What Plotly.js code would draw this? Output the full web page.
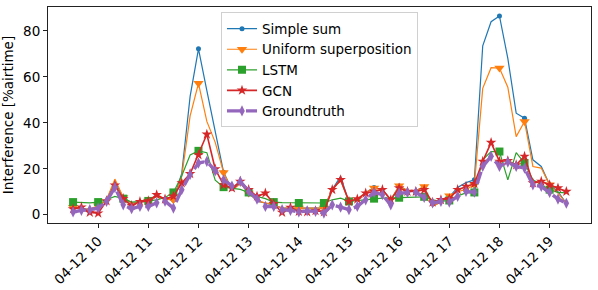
<!DOCTYPE html>
<html>
<head>
<meta charset="utf-8">
<script src="https://cdn.plot.ly/plotly-3.0.1.min.js"></script>
<style>html,body{margin:0;padding:0;background:#fff;}#chart{width:598px;height:290px;}</style>
</head>
<body>
<div id="chart"></div>
<script>
// 10-minute samples, 04-12 09:30 .. 19:20
const times = [
 "2021-04-12 09:30","2021-04-12 09:40","2021-04-12 09:50","2021-04-12 10:00","2021-04-12 10:10","2021-04-12 10:20",
 "2021-04-12 10:30","2021-04-12 10:40","2021-04-12 10:50","2021-04-12 11:00","2021-04-12 11:10","2021-04-12 11:20",
 "2021-04-12 11:30","2021-04-12 11:40","2021-04-12 11:50","2021-04-12 12:00","2021-04-12 12:10","2021-04-12 12:20",
 "2021-04-12 12:30","2021-04-12 12:40","2021-04-12 12:50","2021-04-12 13:00","2021-04-12 13:10","2021-04-12 13:20",
 "2021-04-12 13:30","2021-04-12 13:40","2021-04-12 13:50","2021-04-12 14:00","2021-04-12 14:10","2021-04-12 14:20",
 "2021-04-12 14:30","2021-04-12 14:40","2021-04-12 14:50","2021-04-12 15:00","2021-04-12 15:10","2021-04-12 15:20",
 "2021-04-12 15:30","2021-04-12 15:40","2021-04-12 15:50","2021-04-12 16:00","2021-04-12 16:10","2021-04-12 16:20",
 "2021-04-12 16:30","2021-04-12 16:40","2021-04-12 16:50","2021-04-12 17:00","2021-04-12 17:10","2021-04-12 17:20",
 "2021-04-12 17:30","2021-04-12 17:40","2021-04-12 17:50","2021-04-12 18:00","2021-04-12 18:10","2021-04-12 18:20",
 "2021-04-12 18:30","2021-04-12 18:40","2021-04-12 18:50","2021-04-12 19:00","2021-04-12 19:10","2021-04-12 19:20"
];

const simpleSum = [3,2.5,2.5,3.5,6.5,14.5, 7.5,5,5.5,6,8,6.8, 6.5,18,51.5,72.2,54,36.5, 18.5,11,14,9.5,6,5,
 4.3,2.9,2.9,2.9,2.9,2.9, 2.9,11,16.7,5.5,6.8,9.7, 11.8,11,6.5,12.5,10.5,10.5, 12,3.8,5.5,7.8,11.9,14,
 15.2,73.5,84,86.5,68,44.2, 42,23.9,21,13,10,5];

const uniformSup = [3.3,2.5,2.5,3.9,6.5,15.5, 7.5,5,5.5,6,8,6.8, 6.5,16.7,43,57.2,40.6,31.5, 18.4,10.6,13.5,9.5,6,5,
 4.3,2.9,2.9,2.9,2.9,2.9, 2.9,10.9,15,5.5,6.8,9.7, 11.6,10.9,6.5,12.6,10.5,10.5, 12.3,3.6,5.5,8.3,10,11,
 13,55,64,63.8,55.5,34, 40.6,21,20.3,13,9.4,4.8];

const lstm = [5.5,5.3,5.2,5.5,6.5,8, 7,5.5,5.7,6,6.5,7.5, 9.7,17,26,27.8,27,15, 12,11.5,11,9.7,8,7,
 5.5,5.3,5.2,5.1,5.1,5.1, 5.1,6.5,7.2,5.8,6.2,6.6, 7,7.2,7.3,7.4,7.5,7.6, 7.8,6.5,5.8,6.2,8.2,9.5,
 9.7,23.9,27.5,27.5,15.2,27, 22.5,15.2,13,10.9,9.7,9.5];

const gcn = [2.5,3.3,1.0,0.7,6,12.8, 7,4,5.7,6,8.7,6.8, 8,13.8,17.8,26,35,19.9, 13,11.6,14.5,10.9,8,9.4,
 4.8,1,3.2,1.4,1.2,1.7, 1.2,10.9,15.2,5.8,6.8,9.4, 10.1,10.9,6.5,11.6,10.1,10.1, 10.9,5.4,6.5,7,10.9,12.3,
 13.5,23.2,31.4,23.2,23.5,21.7, 25.4,13.8,14.5,13,11.6,10.1];

const groundtruth = [1.2,1.9,2.2,2.9,5.8,11.9, 4.3,2.6,3.6,3.6,5.2,5.9, 2.9,10.9,17.5,22.5,23.2,19.1, 15.2,12.5,14.5,10.1,6.8,3.6,
 3.6,2.2,1.9,1.2,1.7,1.4, 0.7,4.3,3.3,2.2,3.6,6.5, 9.7,8.7,4.3,9.4,9.7,9.8, 7.5,5.1,5.8,5.5,8,10.1,
 9.8,21,25.4,21,22.9,21, 20.3,13,12.3,9.7,6.8,5];

const seriesNames = ["Simple sum","Uniform superposition","LSTM","GCN","Groundtruth"];
const tickHours = ["10","11","12","13","14","15","16","17","18","19"];
const tickVals = tickHours.map(h => "2021-04-12 " + h + ":00");
const tickText = tickHours.map(h => "04-12 " + h);

const MARKEVERY = 3;
function everyColors(col, n) {
  const a = [];
  for (let i = 0; i < n; i++) a.push(i % MARKEVERY === 0 ? col : "rgba(0,0,0,0)");
  return a;
}
const N = times.length;

const traces = [
  {x: times, y: simpleSum, name: seriesNames[0], mode: "lines+markers",
   line: {color: "#1f77b4", width: 1.2},
   marker: {symbol: "circle", size: 5, color: everyColors("#1f77b4", N)}},
  {x: times, y: uniformSup, name: seriesNames[1], mode: "lines+markers",
   line: {color: "#ff7f0e", width: 1.2},
   marker: {symbol: "triangle-down", size: 9, color: everyColors("#ff7f0e", N)}},
  {x: times, y: lstm, name: seriesNames[2], mode: "lines+markers",
   line: {color: "#2ca02c", width: 1.2},
   marker: {symbol: "square", size: 8, color: everyColors("#2ca02c", N)}},
  {x: times, y: gcn, name: seriesNames[3], mode: "lines+markers",
   line: {color: "#d62728", width: 1.6},
   marker: {symbol: "star", size: 8, color: "#d62728"}},
  {x: times, y: groundtruth, name: seriesNames[4], mode: "lines+markers",
   line: {color: "#9467bd", width: 3.4, dash: "13px,6px"},
   marker: {symbol: "diamond-tall", size: 8, color: "#9467bd"}}
];

const fontFam = "DejaVu Sans, sans-serif";
const layout = {
  width: 598, height: 290,
  margin: {l: 48, r: 7, t: 7, b: 67},
  paper_bgcolor: "#fff", plot_bgcolor: "#fff",
  font: {family: fontFam, size: 13.5, color: "#000"},
  showlegend: true,
  legend: {x: 0.5, xanchor: "center", y: 0.975, yanchor: "top",
           bgcolor: "rgba(255,255,255,0.8)", bordercolor: "#d0d0d0", borderwidth: 1,
           font: {family: fontFam, size: 13.5, color: "#000"}, tracegroupgap: 0},
  xaxis: {type: "date", range: ["2021-04-12 09:00", "2021-04-12 19:49:30"],
          tickmode: "array", tickvals: tickVals, ticktext: tickText, tickangle: -45,
          showgrid: false, zeroline: false, showline: true, mirror: true,
          linecolor: "#222", linewidth: 1, ticks: "outside", ticklen: 4, tickwidth: 1, tickcolor: "#222",
          tickfont: {family: fontFam, size: 13.5, color: "#000"}},
  yaxis: {range: [-3.6, 90.4], tickmode: "array", tickvals: [0,20,40,60,80],
          showgrid: false, zeroline: false, showline: true, mirror: true,
          linecolor: "#222", linewidth: 1, ticks: "outside", ticklen: 4, tickwidth: 1, tickcolor: "#222",
          tickfont: {family: fontFam, size: 13.5, color: "#000"},
          title: {text: "Interference [%airtime]", font: {family: fontFam, size: 13.5, color: "#000"}, standoff: 8}}
};

Plotly.newPlot("chart", traces, layout, {displayModeBar: false, staticPlot: true});
</script>
</body>
</html>
